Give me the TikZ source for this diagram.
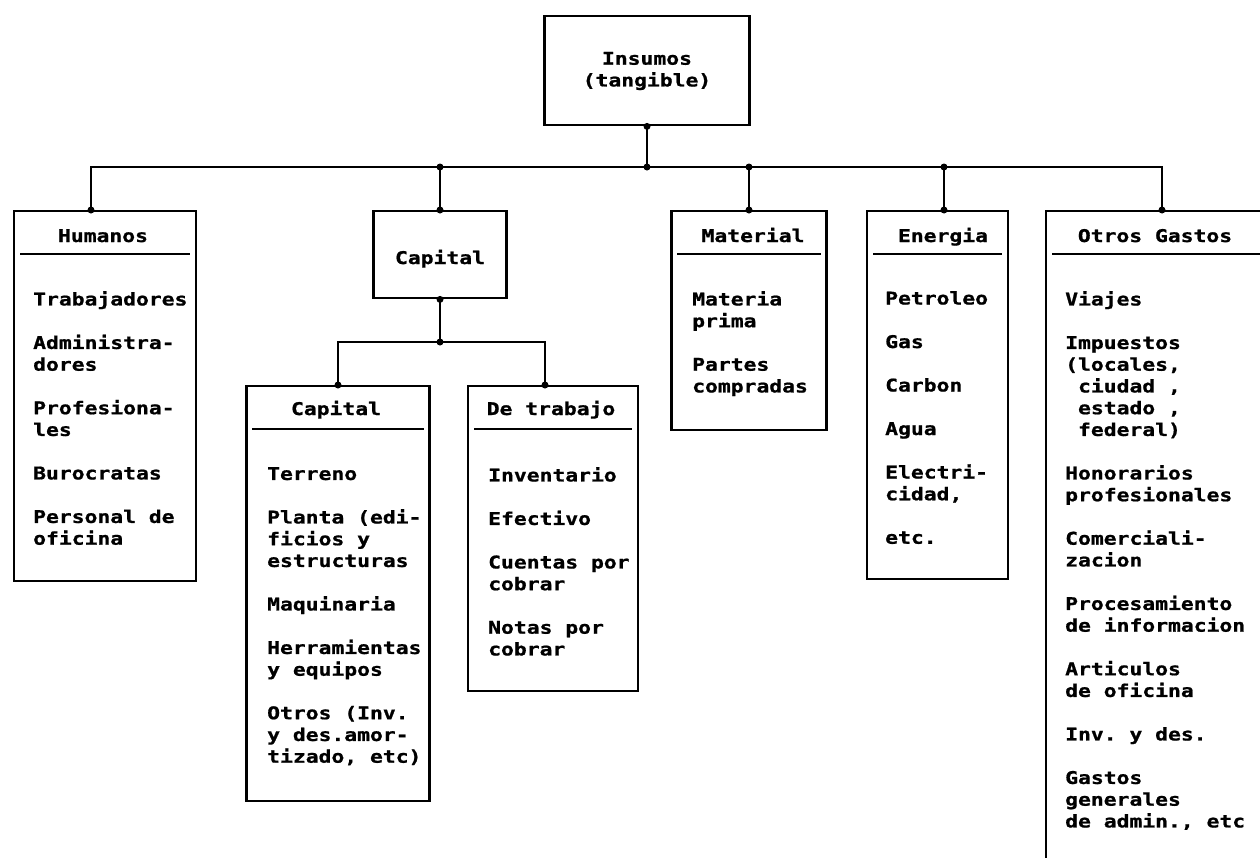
\documentclass[tikz,border=0pt]{standalone}
\usepackage{fontspec}
\setmonofont{DejaVu Sans Mono}[FakeStretch=1.22,FakeBold=1]
\newcommand{\gapline}{\\[21.75pt]}
\begin{document}
\begin{tikzpicture}[
   x=1pt,y=-1pt,
   font=\ttfamily\bfseries\fontsize{17.5pt}{21.75pt}\selectfont,
   box/.style={draw,line width=2.4pt,inner sep=0pt},
   head/.style={anchor=base,inner sep=0pt},
   items/.style={anchor=north west,align=left,inner sep=0pt},
   link/.style={line width=2.4pt},
   rule/.style={line width=2.4pt}]
\useasboundingbox (0,0) rectangle (1260,857);
\clip (0,0) rectangle (1260,857);
\node[box,anchor=north,minimum width=205pt,minimum height=109pt] (ins) at (647,15) {};
\node[box,anchor=north west,minimum width=182pt,minimum height=370pt] (hum) at (13,210) {};
\node[box,anchor=north,minimum width=133pt,minimum height=87pt] (cap) at (440,210) {};
\node[box,anchor=north,minimum width=155pt,minimum height=219pt] (mat) at (749,210) {};
\node[box,anchor=north west,minimum width=141pt,minimum height=368pt] (ene) at (866,210) {};
\node[box,anchor=north west,minimum width=300pt,minimum height=700pt] (ots) at (1045,210) {};
\node[box,anchor=north,minimum width=183pt,minimum height=415pt] (capk) at (338,385) {};
\node[box,anchor=north west,minimum width=170pt,minimum height=305pt] (trab) at (467,385) {};
\node[align=center,inner sep=0pt] (inst) at (647,71) {Insumos\\(tangible)};
\node[head] (capt) at (440,264) {Capital};
\node[head] (humt) at (103,242) {Humanos};
\node[head] (matt) at (753,242) {Material};
\node[head] (enet) at (943,242) {Energia};
\node[head] (otst) at (1155,242) {Otros Gastos};
\node[head] (capkt) at (336,415) {Capital};
\node[head] (trabt) at (551,415) {De trabajo};
\draw[rule] ([xshift=7pt,yshift=-44pt]hum.north west) -- ([xshift=-7pt,yshift=-44pt]hum.north east);
\draw[rule] ([xshift=7pt,yshift=-44pt]mat.north west) -- ([xshift=-7pt,yshift=-44pt]mat.north east);
\draw[rule] ([xshift=7pt,yshift=-44pt]ene.north west) -- ([xshift=-7pt,yshift=-44pt]ene.north east);
\draw[rule] ([xshift=7pt,yshift=-44pt]ots.north west) -- ([xshift=-7pt,yshift=-44pt]ots.north east);
\draw[rule] ([xshift=7pt,yshift=-44pt]capk.north west) -- ([xshift=-7pt,yshift=-44pt]capk.north east);
\draw[rule] ([xshift=7pt,yshift=-44pt]trab.north west) -- ([xshift=-7pt,yshift=-44pt]trab.north east);
\node[items] (huml) at (33,291) {Trabajadores\gapline Administra-\\dores\gapline Profesiona-\\les\gapline Burocratas\gapline Personal de\\oficina};
\node[items] (matl) at (692,291) {Materia\\prima\gapline Partes\\compradas};
\node[items] (enel) at (885,291) {Petroleo\gapline Gas\gapline Carbon\gapline Agua\gapline Electri-\\cidad,\gapline etc.};
\node[items] (otsl) at (1065,291) {Viajes\gapline Impuestos\\(locales,\\~ciudad ,\\~estado ,\\~federal)\gapline Honorarios\\profesionales\gapline Comerciali-\\zacion\gapline Procesamiento\\de informacion\gapline Articulos\\de oficina\gapline Inv. y des.\gapline Gastos\\generales\\de admin., etc};
\node[items] (capkl) at (267,467) {Terreno\gapline Planta (edi-\\ficios y\\estructuras\gapline Maquinaria\gapline Herramientas\\y equipos\gapline Otros (Inv.\\y des.amor-\\tizado, etc)};
\node[items] (trabl) at (488,467) {Inventario\gapline Efectivo\gapline Cuentas por\\cobrar\gapline Notas por\\cobrar};
\coordinate (bus) at (647,167);
\coordinate (sub) at (440,342);
\draw[link] (ins.south) -- (bus);
\draw[link] ([xshift=78pt]hum.north west) |- (bus) -| ([xshift=117pt]ots.north west);
\draw[link] (cap.north) -- (cap.north |- bus);
\draw[link] (mat.north) -- (mat.north |- bus);
\draw[link] ([xshift=78pt]ene.north west) -- ([xshift=78pt]ene.north west |- bus);
\draw[link] (cap.south) -- (sub);
\draw[link] (capk.north) |- (sub) -| ([xshift=78pt]trab.north west);
\fill (ins.south) circle (3.5pt);
\fill (bus) circle (3.5pt);
\fill (cap.north |- bus) circle (3.5pt);
\fill (mat.north |- bus) circle (3.5pt);
\fill ([xshift=78pt]ene.north west |- bus) circle (3.5pt);
\fill ([xshift=78pt]hum.north west) circle (3.5pt);
\fill (cap.north) circle (3.5pt);
\fill (mat.north) circle (3.5pt);
\fill ([xshift=78pt]ene.north west) circle (3.5pt);
\fill ([xshift=117pt]ots.north west) circle (3.5pt);
\fill (cap.south) circle (3.5pt);
\fill (sub) circle (3.5pt);
\fill (capk.north) circle (3.5pt);
\fill ([xshift=78pt]trab.north west) circle (3.5pt);
\end{tikzpicture}
\end{document}
